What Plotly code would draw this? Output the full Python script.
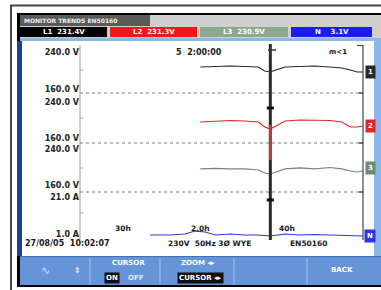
import plotly.graph_objects as go

# ---------------- data ----------------
hours = [17.0, 19.1, 21.2, 23.3, 25.2, 26.1, 26.9, 27.7, 29.0, 31.1, 33.2, 35.3, 37.0, 38.2, 39.2, 40.0]
l1_volts = [207.6, 208.7, 209.7, 208.7, 207.6, 198.9, 196.8, 201.1, 207.6, 208.7, 209.7, 207.6, 205.4, 201.1, 196.8, 196.8]
l2_volts = [195.6, 197.8, 198.9, 197.8, 195.6, 184.4, 180.0, 186.7, 197.8, 200.0, 200.0, 198.9, 195.6, 184.4, 184.4, 186.7]
l3_volts = [195.6, 196.7, 195.6, 195.6, 193.3, 186.7, 184.4, 188.9, 195.6, 197.8, 195.6, 198.9, 195.6, 191.1, 188.9, 191.1]
n_hours = [9.9, 12.7, 14.8, 16.3, 17.7, 19.1, 21.2, 23.3, 25.2, 26.9, 29.0, 31.1, 33.2, 35.3, 37.5, 40.0]
n_amps = [0.46, 0.46, 1.0, 2.6, 2.1, 0.46, 1.0, 0.46, 0.46, -0.08, 1.0, 0.46, 0.73, 0.46, 0.19, -0.08]

cursor_hour = 26.9
time_labels = ["30h", "2.0h", "40h"]
time_label_hours = [6.1, 17.0, 29.3]

volt_ticks = [160, 240]
volt_ticktext = ["160.0 V", "240.0 V"]
amp_ticks = [1, 21]
amp_ticktext = ["1.0 A", "21.0 A"]

header_labels = ["L1  231.4V", "L2  231.3V", "L3  230.9V", "N    3.1V"]
header_colors = ["#000000", "#f01818", "#8ea88e", "#1c1cf0"]
trace_colors = ["#2a2a2a", "#e02828", "#6f8a70", "#2a3ae0"]

W, H = 381, 290
def px(x):
    return x / W
def py(y):
    return 1 - y / H

fig = go.Figure()
fig.add_trace(go.Scatter(x=hours, y=l1_volts, mode="lines", line=dict(color=trace_colors[0], width=1.2), xaxis="x", yaxis="y"))
fig.add_trace(go.Scatter(x=hours, y=l2_volts, mode="lines", line=dict(color=trace_colors[1], width=1.2), xaxis="x", yaxis="y2"))
fig.add_trace(go.Scatter(x=hours, y=l3_volts, mode="lines", line=dict(color=trace_colors[2], width=1.2), xaxis="x", yaxis="y3"))
fig.add_trace(go.Scatter(x=n_hours, y=n_amps, mode="lines", line=dict(color=trace_colors[3], width=1.2), xaxis="x", yaxis="y4"))

tickfont = dict(family="DejaVu Sans", size=8, color="#222")
def yax(dom_px, rng, tv, tt):
    return dict(domain=[py(dom_px[1]), py(dom_px[0])], range=rng, tickvals=tv,
                ticktext=["<b>%s</b>" % t for t in tt], showgrid=False, zeroline=False,
                showline=False, ticks="", tickfont=tickfont, anchor="x", fixedrange=True)

shapes = []
def rect(x0, y0, x1, y1, color, line=None):
    shapes.append(dict(type="rect", xref="paper", yref="paper", x0=px(x0), x1=px(x1),
                       y0=py(y1), y1=py(y0), fillcolor=color,
                       line=dict(width=0) if line is None else line, layer="below"))
def hline(x0, x1, y, color, width=1, dash="solid", layer="above"):
    shapes.append(dict(type="line", xref="paper", yref="paper", x0=px(x0), x1=px(x1), y0=py(y), y1=py(y),
                       line=dict(color=color, width=width, dash=dash), layer=layer))
def vline(x, y0, y1, color, width=1, layer="above"):
    shapes.append(dict(type="line", xref="paper", yref="paper", x0=px(x), x1=px(x), y0=py(y0), y1=py(y1),
                       line=dict(color=color, width=width), layer=layer))

# outer frame
hline(10, 381, 5.5, "#444", 2)
vline(11, 5, 290, "#444", 2)
# screen
rect(17, 13, 381, 287, "#000000")
rect(20, 15, 381, 26, "#cfcfcf")
rect(20, 15, 150, 26, "#5a5a5a")
rect(20, 26, 381, 38, "#cfcfcf")
for (x0, x1), c in zip([(20, 107), (110, 197), (200, 288), (291, 372)], header_colors):
    rect(x0, 27, x1, 37, c)
rect(20, 38, 381, 41, "#8ab8ec")
rect(22, 41, 374, 256, "#ffffff")
rect(17, 41, 22, 256, "#1d3f8f")
rect(374, 41, 381, 256, "#8ab8ec")
rect(20, 256, 381, 285, "#6595d8")
hline(20, 381, 256.5, "#3f6fb8", 1)
for xd in [90, 160, 234, 307]:
    vline(xd, 258, 285, "#9fc0ec", 1)
# plot frame
vline(80, 45, 240, "#9a9a9a", 1)
vline(363, 45, 240, "#444", 1.2)
hline(357, 363, 45.5, "#444", 1.2)
for yg in [93, 143, 192]:
    hline(80, 363, yg, "#7a7a7a", 1, "dot")
    hline(359, 363, yg, "#444", 1.5)
for yt in [70, 118, 168, 213]:
    hline(80, 83, yt, "#9a9a9a", 1)
# cursor
shapes.append(dict(type="line", xref="x", yref="paper", x0=cursor_hour, x1=cursor_hour,
                   y0=py(240), y1=py(44), line=dict(color="#2a2a2a", width=3)))
shapes.append(dict(type="line", xref="x", yref="paper", x0=cursor_hour, x1=cursor_hour,
                   y0=py(160), y1=py(125), line=dict(color="#c84848", width=2)))
for yc in [108, 200]:
    shapes.append(dict(type="line", xref="x", yref="paper", x0=cursor_hour - 0.5, x1=cursor_hour + 0.5,
                       y0=py(yc), y1=py(yc), line=dict(color="#111", width=3)))
hline(268, 276, 50, "#333", 1.5)

annotations = []
def text(x, y, s, size=7, color="#1a1a1a", anchor="left", bg=None, pad=1):
    a = dict(xref="paper", yref="paper", x=px(x), y=py(y), text=s, showarrow=False,
             xanchor=anchor, yanchor="middle", font=dict(family="DejaVu Sans", size=size, color=color))
    if bg:
        a.update(bgcolor=bg, borderpad=pad)
    annotations.append(a)

text(22, 20.5, "<b>MONITOR TRENDS EN50160</b>", 6, "#f0f0f0")
for (x0, x1), lab in zip([(20, 107), (110, 197), (200, 288), (291, 372)], header_labels):
    text((x0 + x1) / 2, 32, "<b>%s</b>" % lab, 7, "#ffffff", "center")
text(174, 52, "<b>5  2:00:00</b>", 8, "#1a1a1a")
text(327, 52, "<b>m&lt;1</b>", 7, "#1a1a1a")
for th, tl in zip(time_label_hours, time_labels):
    annotations.append(dict(xref="x", yref="paper", x=th, y=py(228), text="<b>%s</b>" % tl, showarrow=False,
                            xanchor="center", yanchor="middle",
                            font=dict(family="DejaVu Sans", size=7.5, color="#1a1a1a")))
text(23, 243.5, "<b>27/08/05  10:02:07</b>", 8)
text(166, 243.5, "<b>230V  50Hz 3Ø WYE</b>", 7.5)
text(288, 243.5, "<b>EN50160</b>", 7.5)
# channel tags
for yy, lab, c in zip([72, 126, 168, 236], ["1", "2", "3", "N"], trace_colors):
    text(370, yy, "<b>%s</b>" % lab, 7, "#ffffff", "center", c, 2)
# function keys
text(45, 270, "∿", 11, "#cfe0f8", "center")
text(77, 270, "<b>⇕</b>", 8, "#e8f0fc", "center")
text(128, 263, "<b>CURSOR</b>", 7, "#ffffff", "center")
text(112, 278, "<b>ON</b>", 7, "#ffffff", "center", "#111111")
text(136, 278, "<b>OFF</b>", 7, "#e0e8f8", "center")
text(198, 263, "<b>ZOOM ◂▸</b>", 7, "#ffffff", "center")
text(200, 278, "<b>CURSOR ◂▸</b>", 7, "#ffffff", "center", "#111111")
text(342, 270, "<b>BACK</b>", 7, "#ffffff", "center")

fig.update_layout(
    width=W, height=H, margin=dict(l=0, r=0, t=0, b=0),
    paper_bgcolor="#ffffff", plot_bgcolor="rgba(0,0,0,0)", showlegend=False,
    xaxis=dict(domain=[px(80), px(363)], range=[0, 40], showticklabels=False, showgrid=False,
               zeroline=False, showline=False, ticks="", fixedrange=True),
    yaxis=yax((45, 93), [151.4, 255.1], volt_ticks, volt_ticktext),
    yaxis2=yax((93, 143), [148.9, 260.0], volt_ticks, volt_ticktext),
    yaxis3=yax((143, 192), [144.4, 253.3], volt_ticks, volt_ticktext),
    yaxis4=yax((192, 240), [-2.24, 23.7], amp_ticks, amp_ticktext),
    shapes=shapes, annotations=annotations,
)
fig.write_html("out.html", config={"displayModeBar": False},
               post_script="document.body.style.margin='0';document.body.style.overflow='hidden';")
